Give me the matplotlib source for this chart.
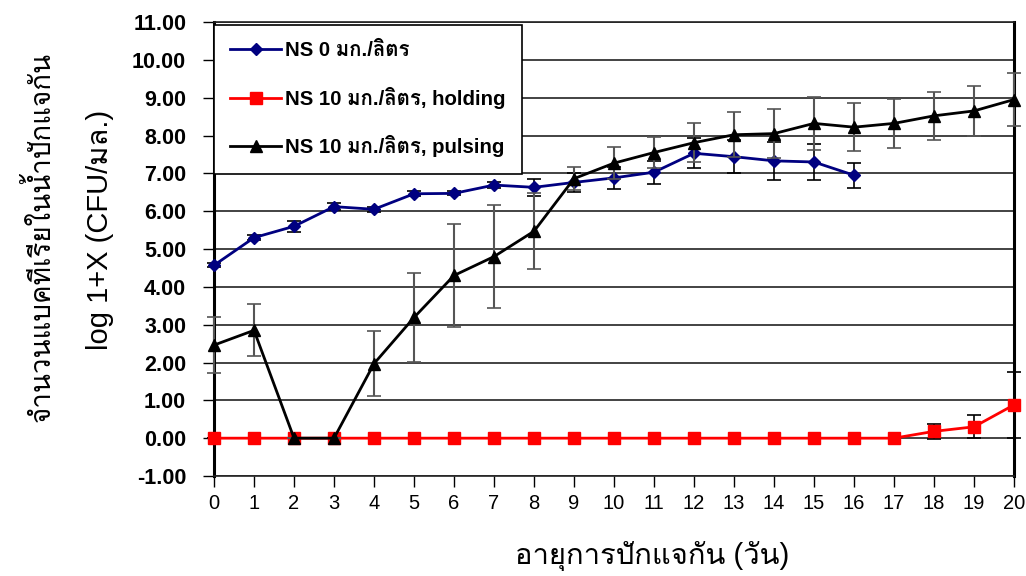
import numpy as np
import matplotlib
matplotlib.use("Agg")
from matplotlib import pyplot as plt
from matplotlib import font_manager
from matplotlib.ft2font import FT2Font
from matplotlib.lines import Line2D

# data
days = list(range(21))
ns0_days = list(range(17))
ns0 = [4.57, 5.30, 5.60, 6.12, 6.05, 6.46, 6.47, 6.69, 6.63, 6.76, 6.88, 7.03, 7.53, 7.44, 7.33, 7.30, 6.95]
ns0_err = [0.05, 0.06, 0.15, 0.10, 0.07, 0.06, 0.05, 0.07, 0.22, 0.25, 0.30, 0.30, 0.40, 0.43, 0.50, 0.47, 0.33]
holding = [0, 0, 0, 0, 0, 0, 0, 0, 0, 0, 0, 0, 0, 0, 0, 0, 0, 0, 0.18, 0.30, 0.88]
holding_err = [0, 0, 0, 0, 0, 0, 0, 0, 0, 0, 0, 0, 0, 0, 0, 0, 0, 0, 0.20, 0.30, 0.88]
pulsing = [2.46, 2.85, 0, 0, 1.97, 3.19, 4.30, 4.80, 5.47, 6.86, 7.27, 7.55, 7.81, 8.02, 8.05, 8.32, 8.22, 8.32, 8.52, 8.65, 8.95]
pulsing_err = [0.73, 0.69, 0, 0, 0.85, 1.18, 1.37, 1.37, 1.00, 0.30, 0.42, 0.42, 0.52, 0.60, 0.64, 0.69, 0.63, 0.64, 0.64, 0.66, 0.71]

labels = ["NS 0 มก./ลิตร", "NS 10 มก./ลิตร, holding", "NS 10 มก./ลิตร, pulsing"]
xlabel = "อายุการปักแจกัน (วัน)"
ylabel1 = "จำนวนแบคทีเรียในน้ำปักแจกัน"
ylabel2 = "log 1+X (CFU/มล.)"


def find_thai_font():
    # pick any installed font that has Thai glyphs
    for f in font_manager.fontManager.ttflist:
        try:
            if 0x0E01 in FT2Font(f.fname).get_charmap():
                return f.name
        except Exception:
            pass
    return "DejaVu Sans"


thai = find_thai_font()
fam = ["Liberation Sans", thai]
plt.rcParams["font.family"] = fam

fig = plt.figure(figsize=(10.26, 5.76), dpi=100)
ax = fig.add_axes([0.2086, 0.1736, 0.7797, 0.7882])

ax.set_axisbelow(True)
ax.yaxis.grid(True, color="#222222", linewidth=1.2)

styles = [
    dict(color="#000080", marker="D", markersize=6),
    dict(color="#FF0000", marker="s", markersize=9),
    dict(color="black", marker="^", markersize=9),
]

ax.errorbar(ns0_days, ns0, yerr=ns0_err, ecolor="black", elinewidth=1.2,
            capsize=5, capthick=1.2, linewidth=2, clip_on=False, zorder=4, **styles[0])
ax.errorbar(days, holding, yerr=holding_err, ecolor="black", elinewidth=1.2,
            capsize=5, capthick=1.2, linewidth=2, clip_on=False, zorder=3, **styles[1])
ax.errorbar(days, pulsing, yerr=pulsing_err, ecolor="#555555", elinewidth=1.5,
            capsize=5, capthick=1.2, linewidth=2, clip_on=False, zorder=5, **styles[2])

ax.set_xlim(0, 20)
ax.set_ylim(-1, 11)
ax.set_xticks(days)
yt = np.arange(-1, 12, 1)
ax.set_yticks(yt)
ax.set_yticklabels([f"{v:.2f}" for v in yt], fontsize=15.5, fontweight="bold")
ax.tick_params(axis="x", labelsize=14.5, length=8, width=1, pad=5)
ax.tick_params(axis="y", length=8, width=1, pad=12)

for side in ["left", "right"]:
    ax.spines[side].set_linewidth(2.2)
for side in ["top", "bottom"]:
    ax.spines[side].set_linewidth(1.2)
    ax.spines[side].set_color("#222222")

ax.set_xlabel(xlabel, fontsize=21)
ax.xaxis.set_label_coords(0.5475, -0.143)
fig.text(40 / 1026, 1 - 237 / 576, ylabel1, rotation=90, fontsize=20, ha="center", va="center")
fig.text(100 / 1026, 1 - 230 / 576, ylabel2, rotation=90, fontsize=21, ha="center", va="center")

handles = [Line2D([], [], linewidth=2, **s) for s in styles]
leg = ax.legend(handles, labels, loc="upper left", bbox_to_anchor=(0.0, 0.994),
                borderaxespad=0, prop={"family": fam, "weight": "bold", "size": 14.7},
                frameon=True, fancybox=False, edgecolor="black", framealpha=1,
                borderpad=0.8, labelspacing=1.3, handlelength=2.5, handletextpad=0.2)
leg.get_frame().set_linewidth(1.2)

fig.savefig("out.png", dpi=100)
